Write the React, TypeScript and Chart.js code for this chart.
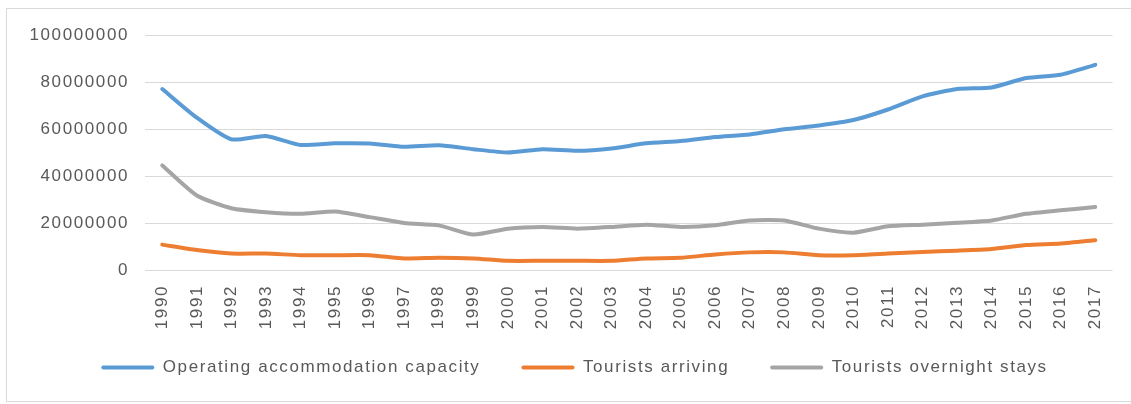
import React, { useEffect, useRef } from 'react';
import { Chart, registerables } from 'chart.js';

Chart.register(...registerables);

const years = [
  '1990', '1991', '1992', '1993', '1994', '1995', '1996', '1997', '1998', '1999',
  '2000', '2001', '2002', '2003', '2004', '2005', '2006', '2007', '2008', '2009',
  '2010', '2011', '2012', '2013', '2014', '2015', '2016', '2017',
];

const capacity = [
  77000000, 64800000, 55600000, 57000000, 53200000, 53900000, 53800000, 52400000,
  53100000, 51400000, 50000000, 51400000, 50700000, 51700000, 53900000, 54900000,
  56600000, 57700000, 59900000, 61500000, 63800000, 68300000, 73900000, 77000000,
  77700000, 81700000, 83100000, 87300000,
];

const arriving = [
  10800000, 8500000, 7000000, 7000000, 6300000, 6300000, 6300000, 4900000,
  5200000, 4900000, 3900000, 3900000, 3900000, 3900000, 4900000, 5200000,
  6600000, 7500000, 7500000, 6300000, 6300000, 7000000, 7700000, 8200000,
  8900000, 10600000, 11300000, 12700000,
];

const overnight = [
  44500000, 31700000, 26300000, 24600000, 23900000, 24900000, 22500000, 20000000,
  19000000, 15100000, 17600000, 18300000, 17600000, 18300000, 19300000, 18300000,
  19000000, 21100000, 21100000, 17600000, 15900000, 18600000, 19300000, 20100000,
  21100000, 23900000, 25400000, 26800000,
];

const seriesNames = [
  'Operating accommodation capacity',
  'Tourists arriving',
  'Tourists overnight stays',
];

const yMin = 0;
const yMax = 100000000;
const yStep = 20000000;

const TEXT = '#595959';
const GRID = '#d9d9d9';
const FONT = { family: '"Liberation Sans", Arial, sans-serif', size: 17 };
const LS = '1.6px';

const spacingPlugin = {
  id: 'letterSpacing',
  beforeUpdate(chart: any) { chart.ctx.letterSpacing = LS; },
  beforeLayout(chart: any) { chart.ctx.letterSpacing = LS; },
  afterLayout(chart: any) {
    // widen the label clip boxes so tick text is not cut off
    if (chart.scales.y) chart.scales.y.left = 0;
    if (chart.scales.x) chart.scales.x.bottom = chart.height;
  },
  beforeDraw(chart: any) { chart.ctx.letterSpacing = LS; },
};

export default function App() {
  const ref = useRef<HTMLCanvasElement>(null);

  useEffect(() => {
    if (!ref.current) return;
    const chart = new Chart(ref.current, {
      type: 'line',
      data: {
        labels: years,
        datasets: [
          { label: seriesNames[0], data: capacity, borderColor: '#5b9bd5', backgroundColor: '#5b9bd5' },
          { label: seriesNames[1], data: arriving, borderColor: '#ed7d31', backgroundColor: '#ed7d31' },
          { label: seriesNames[2], data: overnight, borderColor: '#a5a5a5', backgroundColor: '#a5a5a5' },
        ].map((d) => ({
          ...d,
          borderWidth: 4,
          pointRadius: 0,
          pointHoverRadius: 0,
          tension: 0.2,
          borderJoinStyle: 'round' as const,
          borderCapStyle: 'round' as const,
          fill: false,
        })),
      },
      options: {
        responsive: false,
        animation: false,
        events: [],
        layout: { padding: { left: 29, right: 17, top: 27, bottom: 16 } },
        plugins: {
          tooltip: { enabled: false },
          legend: {
            position: 'bottom',
            labels: {
              color: TEXT,
              font: FONT,
              boxWidth: 53,
              boxHeight: 4,
              padding: 41,
              generateLabels: (c: any) =>
                Chart.defaults.plugins.legend.labels.generateLabels(c).map((it: any) => ({
                  ...it,
                  fillStyle: it.strokeStyle,
                  lineWidth: 0,
                  borderRadius: 2,
                })),
            },
          },
        },
        scales: {
          x: {
            offset: true,
            grid: { display: false, drawTicks: false },
            border: { display: false },
            ticks: {
              color: TEXT,
              font: FONT,
              autoSkip: false,
              minRotation: 90,
              maxRotation: 90,
              padding: 15,
            },
            afterFit: (s: any) => { s.height = 48; },
          },
          y: {
            min: yMin,
            max: yMax,
            grid: { color: GRID, lineWidth: 1, drawTicks: false },
            border: { display: false },
            ticks: {
              stepSize: yStep,
              color: TEXT,
              font: FONT,
              padding: 16,
              callback: (v: any) => String(v),
            },
            afterFit: (s: any) => { s.width = 110; },
          },
        },
      } as any,
      plugins: [spacingPlugin],
    });
    return () => chart.destroy();
  }, []);

  return (
    <div style={{ position: 'fixed', left: 0, top: 0, width: 1131, height: 404, overflow: 'hidden', background: '#fff' }}>
      <div
        style={{
          position: 'absolute', left: 6, top: 8, width: 1140, height: 394,
          border: '1px solid #d9d9d9', boxSizing: 'border-box',
        }}
      />
      <canvas
        ref={ref}
        width={1125}
        height={394}
        style={{ position: 'absolute', left: 6, top: 8 }}
      />
    </div>
  );
}
